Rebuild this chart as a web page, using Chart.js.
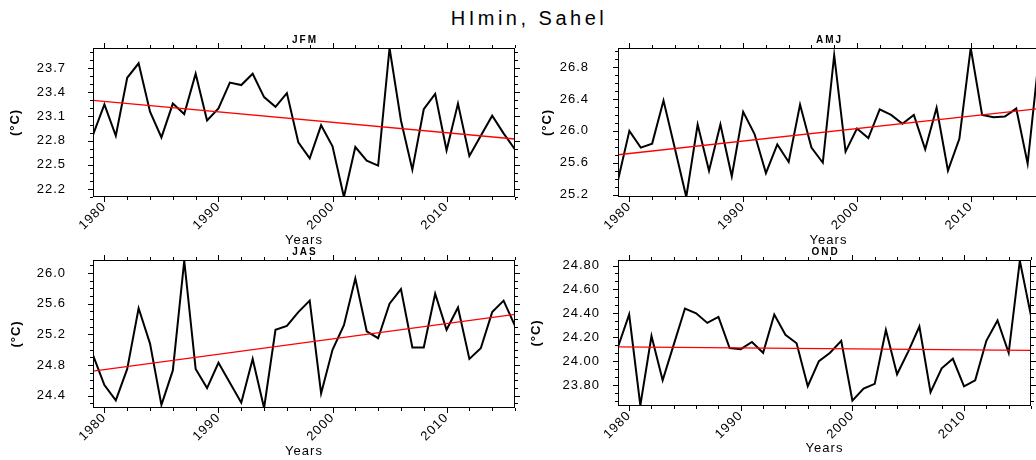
<!DOCTYPE html>
<html><head><meta charset="utf-8">
<script src="https://cdn.jsdelivr.net/npm/chart.js@4.4.1/dist/chart.umd.min.js"></script>
<style>
html,body{margin:0;padding:0;background:#fff;width:1036px;height:460px;overflow:hidden;position:relative;}
canvas.panel{position:absolute;}
#title{position:absolute;top:5px;left:0;width:1058px;text-align:center;font:20px "Liberation Sans",Arial,sans-serif;letter-spacing:3.5px;color:#000;line-height:26px;white-space:nowrap;}
</style></head><body>
<div id="title">HImin, Sahel</div>
<canvas id="c1" class="panel" width="525" height="250" style="left:0;top:0"></canvas>
<canvas id="c2" class="panel" width="525" height="250" style="left:525px;top:0"></canvas>
<canvas id="c3" class="panel" width="525" height="217" style="left:0;top:243px"></canvas>
<canvas id="c4" class="panel" width="525" height="217" style="left:525px;top:243px"></canvas>
<script>
// ---- data ----
const years = [1979,1980,1981,1982,1983,1984,1985,1986,1987,1988,1989,1990,1991,1992,1993,1994,1995,1996,1997,1998,
               1999,2000,2001,2002,2003,2004,2005,2006,2007,2008,2009,2010,2011,2012,2013,2014,2015,2016];
const trendYears = [1979, 2016];
const xTickLabels = [1980, 1990, 2000, 2010];

const jfmValues = [22.87,23.25,22.86,23.58,23.76,23.16,22.84,23.26,23.13,23.63,23.05,23.20,23.52,23.49,23.63,23.34,23.22,23.39,22.78,22.58,
                   22.99,22.73,22.10,22.72,22.55,22.49,23.95,23.05,22.44,23.19,23.38,22.68,23.26,22.61,22.86,23.11,22.89,22.69];
const jfmTrend = [23.30, 22.82];
const jfmTicks = [22.2, 22.5, 22.8, 23.1, 23.4, 23.7];
const jfmRange = [22.10, 23.95];

const amjValues = [25.38,26.00,25.79,25.84,26.38,25.78,25.17,26.08,25.50,26.08,25.43,26.24,25.96,25.47,25.83,25.61,26.33,25.79,25.60,26.95,
                   25.74,26.03,25.91,26.27,26.20,26.09,26.20,25.77,26.29,25.50,25.90,27.04,26.20,26.17,26.18,26.28,25.59,26.93];
const amjTrend = [25.70, 26.28];
const amjTicks = [25.2, 25.6, 26.0, 26.4, 26.8];
const amjRange = [25.17, 27.04];

const jasValues = [24.93,24.54,24.34,24.75,25.54,25.08,24.28,24.73,26.16,24.75,24.50,24.83,24.57,24.31,24.88,24.24,25.26,25.31,25.49,25.64,
                   24.43,25.00,25.32,25.93,25.24,25.15,25.60,25.79,25.03,25.03,25.73,25.26,25.55,24.88,25.02,25.49,25.64,25.31];
const jasTrend = [24.72, 25.46];
const jasTicks = [24.4, 24.8, 25.2, 25.6, 26.0];
const jasRange = [24.24, 26.17];

const ondValues = [24.12,24.39,23.63,24.21,23.84,24.14,24.44,24.40,24.32,24.37,24.11,24.10,24.16,24.07,24.39,24.22,24.15,23.79,24.00,24.07,
                   24.17,23.67,23.77,23.81,24.26,23.89,24.08,24.29,23.74,23.94,24.02,23.79,23.84,24.17,24.34,24.07,24.84,24.38];
const ondTrend = [24.12, 24.09];
const ondTicks = [23.8, 24.0, 24.2, 24.4, 24.6, 24.8];
const ondRange = [23.625, 24.846];

// ---- drawing ----
const FAMILY = '"Liberation Sans", Arial, sans-serif';

const deco = {
  id: 'deco',
  beforeDraw(chart) { chart.ctx.letterSpacing = '1px'; },
  afterDraw(chart, args, opts) {
    const {ctx, chartArea: a, scales: {x, y}} = chart;
    ctx.save();
    ctx.strokeStyle = '#000';
    ctx.lineWidth = 1;
    ctx.strokeRect(a.left + 0.5, a.top + 0.5, a.right - a.left - 1, a.bottom - a.top - 1);
    ctx.beginPath();
    const hTick = (v, len) => {
      const p = Math.round(x.getPixelForValue(v)) + 0.5;
      ctx.moveTo(p, a.bottom); ctx.lineTo(p, a.bottom + len);
      ctx.moveTo(p, a.top); ctx.lineTo(p, a.top - len);
    };
    const vTick = (v, len) => {
      const p = Math.round(y.getPixelForValue(v)) + 0.5;
      ctx.moveTo(a.left, p); ctx.lineTo(a.left - len, p);
      ctx.moveTo(a.right, p); ctx.lineTo(a.right + len, p);
    };
    xTickLabels.forEach(v => hTick(v, 5));
    for (let v = x.min + 1; v <= x.max + 1e-6; v += 2) {
      if (!xTickLabels.includes(v)) hTick(v, 3);
    }
    opts.ticks.forEach(v => vTick(v, 5));
    const st = opts.minor, t0 = opts.ticks[0];
    for (let k = -20; k < 200; k++) {
      const v = t0 + k * st;
      if (v < y.min - 1e-9 || v > y.max + 1e-9) continue;
      if (opts.ticks.some(t => Math.abs(t - v) < 1e-6)) continue;
      vTick(v, 3);
    }
    ctx.stroke();
    ctx.fillStyle = '#000';
    ctx.font = 'bold 10px ' + FAMILY;
    ctx.letterSpacing = '2px';
    ctx.textAlign = 'center';
    ctx.textBaseline = 'middle';
    ctx.fillText(opts.text, (a.left + a.right) / 2 + 1, a.top - 8);
    ctx.restore();
  }
};

function makePanel(id, cfg) {
  return new Chart(document.getElementById(id), {
    type: 'line',
    data: {
      datasets: [
        { data: trendYears.map((v, i) => ({x: v, y: cfg.trend[i]})), borderColor: '#ff0000', borderWidth: 1.3,
          pointRadius: 0, tension: 0, order: 0 },
        { data: years.map((v, i) => ({x: v, y: cfg.values[i]})), borderColor: '#000000', borderWidth: 2,
          pointRadius: 0, tension: 0, order: 1 }
      ]
    },
    options: {
      responsive: false, animation: false, devicePixelRatio: 1,
      layout: {padding: {left: 0, right: cfg.padR, top: cfg.padT, bottom: 0}},
      plugins: {
        legend: {display: false}, tooltip: {enabled: false}, title: {display: false},
        deco: {text: cfg.name, ticks: cfg.ticks, minor: cfg.minor}
      },
      scales: {
        x: {
          type: 'linear', position: 'bottom', min: 1979, max: 2016,
          grid: {display: false, drawTicks: false}, border: {display: false},
          afterBuildTicks: s => { s.ticks = xTickLabels.map(v => ({value: v})); },
          afterFit: s => { s.height = cfg.xH; s.paddingLeft = 0; s.paddingRight = 0; },
          ticks: {autoSkip: false, minRotation: 45, maxRotation: 45, padding: 2, color: '#000',
                  font: {family: FAMILY, size: 13}, callback: v => String(v)},
          title: {display: true, text: 'Years', color: '#000', font: {family: FAMILY, size: 13},
                  padding: {top: 0, bottom: cfg.yearsPad}}
        },
        y: {
          type: 'linear', position: 'left', min: cfg.range[0], max: cfg.range[1],
          grid: {display: false, drawTicks: false}, border: {display: false},
          afterBuildTicks: s => { s.ticks = cfg.ticks.map(v => ({value: v})); },
          afterFit: s => { s.width = cfg.yW; s.paddingTop = 0; s.paddingBottom = 0; },
          ticks: {padding: cfg.tickPad, color: '#000', font: {family: FAMILY, size: 13},
                  callback: v => Number(v).toFixed(cfg.dec)},
          title: {display: true, text: '(°C)', color: '#000', font: {family: FAMILY, size: 13, weight: 'bold'},
                  padding: {top: cfg.titlePad, bottom: 0}}
        }
      }
    },
    plugins: [deco]
  });
}

makePanel('c1', {name: 'JFM', values: jfmValues, trend: jfmTrend, ticks: jfmTicks, range: jfmRange, minor: 0.1, dec: 1,
  yW: 93, padR: 10, padT: 48, xH: 53, yearsPad: 2.2, tickPad: 27, titlePad: 7.2});
makePanel('c2', {name: 'AMJ', values: amjValues, trend: amjTrend, ticks: amjTicks, range: amjRange, minor: 0.1, dec: 1,
  yW: 93, padR: 11, padT: 48, xH: 53, yearsPad: 1.5, tickPad: 29, titlePad: 14.2});
makePanel('c3', {name: 'JAS', values: jasValues, trend: jasTrend, ticks: jasTicks, range: jasRange, minor: 0.1, dec: 1,
  yW: 93, padR: 10, padT: 17, xH: 52, yearsPad: 0.5, tickPad: 27, titlePad: 8.2});
makePanel('c4', {name: 'OND', values: ondValues, trend: ondTrend, ticks: ondTicks, range: ondRange, minor: 0.2 / 3, dec: 2,
  yW: 93, padR: 19, padT: 17, xH: 54, yearsPad: 4.2, tickPad: 18, titlePad: 3.2});
</script>
</body></html>
